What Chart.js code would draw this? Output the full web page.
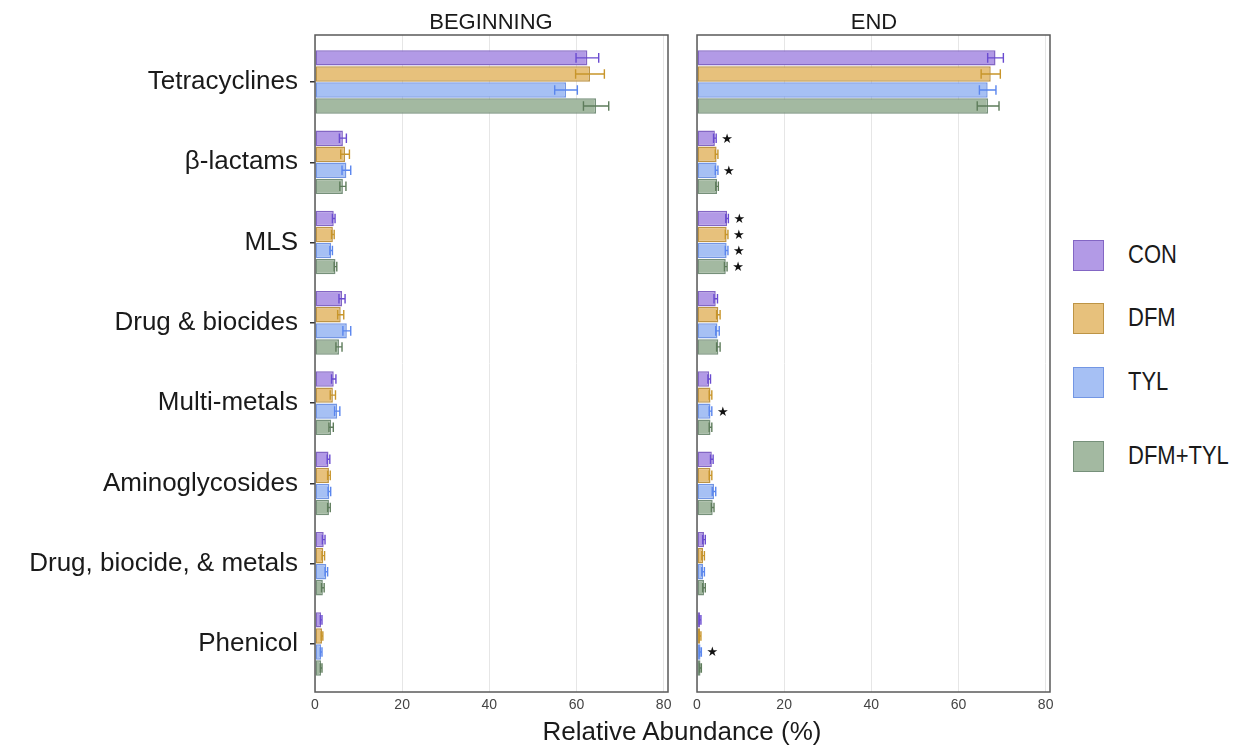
<!DOCTYPE html>
<html>
<head>
<meta charset="utf-8">
<script src="https://cdn.jsdelivr.net/npm/chart.js@4.4.0/dist/chart.umd.min.js"></script>
<style>
  body { margin:0; background:#fff; width:1241px; height:746px; position:relative; overflow:hidden;
         font-family:"Liberation Sans", Arial, Helvetica, sans-serif; color:#1a1a1a; }
  canvas { position:absolute; top:0; }
  #left { left:0; }
  #right { left:680px; }
  .ptitle { position:absolute; top:9px; font-size:22px; transform:translateX(-50%); white-space:nowrap; }
  .xtitle { position:absolute; top:716px; left:682px; font-size:26px; transform:translateX(-50%); white-space:nowrap; }
  .lg { position:absolute; left:1073px; height:32px; display:flex; align-items:center; }
  .sw { width:29px; height:29px; border:1.5px solid; display:inline-block; }
  .lt { position:absolute; left:55px; font-size:22px; white-space:nowrap; transform:scaleY(1.15); transform-origin:left center; }
</style>
</head>
<body>
<canvas id="left" width="680" height="746"></canvas>
<canvas id="right" width="390" height="746"></canvas>
<div class="ptitle" style="left:491px">BEGINNING</div>
<div class="ptitle" style="left:874px">END</div>
<div class="xtitle">Relative Abundance (%)</div>
<div id="legend"></div>
<script>
// Resistance classes (top to bottom)
const categories = ['Tetracyclines', 'β-lactams', 'MLS', 'Drug & biocides', 'Multi-metals',
                    'Aminoglycosides', 'Drug, biocide, & metals', 'Phenicol'];
const groups = ['CON', 'DFM', 'TYL', 'DFM+TYL'];
const xTicks = [0, 20, 40, 60, 80];

// Mean relative abundance (%) at the beginning of the trial
const begCON    = [62.5, 6.4, 4.3, 6.2, 4.3, 3.1, 2.0, 1.4];
const begDFM    = [63.1, 6.9, 4.1, 5.9, 4.1, 3.2, 1.9, 1.6];
const begTYL    = [57.6, 7.2, 3.7, 7.3, 5.1, 3.3, 2.6, 1.4];
const begDFMTYL = [64.5, 6.4, 4.7, 5.5, 3.7, 3.2, 1.8, 1.4];
// Standard errors, beginning
const begCONErr    = [2.6, 0.8, 0.3, 0.7, 0.5, 0.3, 0.3, 0.2];
const begDFMErr    = [3.3, 1.0, 0.3, 0.7, 0.6, 0.3, 0.3, 0.2];
const begTYLErr    = [2.6, 1.0, 0.3, 0.9, 0.6, 0.3, 0.3, 0.2];
const begDFMTYLErr = [2.9, 0.7, 0.3, 0.7, 0.5, 0.3, 0.3, 0.2];

// Mean relative abundance (%) at the end of the trial
const endCON    = [68.5, 4.1, 6.9, 4.3, 2.8, 3.4, 1.6, 0.7];
const endDFM    = [67.4, 4.5, 6.8, 4.9, 3.1, 3.1, 1.4, 0.7];
const endTYL    = [66.7, 4.5, 6.8, 4.7, 3.1, 3.9, 1.4, 0.8];
const endDFMTYL = [66.8, 4.6, 6.6, 4.9, 3.1, 3.6, 1.6, 0.8];
// Standard errors, end
const endCONErr    = [1.8, 0.3, 0.3, 0.4, 0.3, 0.3, 0.3, 0.2];
const endDFMErr    = [2.2, 0.3, 0.3, 0.4, 0.3, 0.3, 0.3, 0.2];
const endTYLErr    = [1.9, 0.3, 0.3, 0.4, 0.3, 0.4, 0.3, 0.2];
const endDFMTYLErr = [2.5, 0.3, 0.3, 0.4, 0.3, 0.3, 0.3, 0.2];
// Significance marks at the end (1 = starred)
const endCONSig    = [0, 1, 1, 0, 0, 0, 0, 0];
const endDFMSig    = [0, 0, 1, 0, 0, 0, 0, 0];
const endTYLSig    = [0, 1, 1, 0, 1, 0, 0, 1];
const endDFMTYLSig = [0, 0, 1, 0, 0, 0, 0, 0];

const fills   = ['#B29AE6', '#E7C17C', '#A6C0F4', '#A3B9A1'];
const borders = ['#8366C4', '#BD9445', '#7396E4', '#76907A'];
const errCols = ['#6A4BD0', '#C8952A', '#5A86EE', '#5E7C5B'];

function makeDatasets(vals, errs, sigs) {
  return vals.map((arr, k) => ({
    label: groups[k],
    data: arr.map((v, i) => ({ x: v, y: i })),
    errors: errs[k],
    stars: sigs ? sigs[k] : null,
    errorColor: errCols[k],
    backgroundColor: fills[k],
    borderColor: borders[k],
    borderWidth: 1.5,
    borderSkipped: false,
    categoryPercentage: 0.8,
    barPercentage: 0.96
  }));
}

// Error bars and significance stars
const errorBars = {
  id: 'errorBars',
  afterDatasetsDraw(chart) {
    const ctx = chart.ctx, xs = chart.scales.x;
    chart.data.datasets.forEach((ds, di) => {
      const meta = chart.getDatasetMeta(di);
      meta.data.forEach((bar, i) => {
        const v = ds.data[i].x, e = ds.errors[i];
        const x0 = xs.getPixelForValue(v - e), x1 = xs.getPixelForValue(v + e);
        const y = bar.y, h = bar.height * 0.62;
        ctx.save();
        ctx.strokeStyle = ds.errorColor;
        ctx.lineWidth = 1.4;
        ctx.beginPath();
        ctx.moveTo(x0, y); ctx.lineTo(x1, y);
        ctx.moveTo(x0, y - h / 2); ctx.lineTo(x0, y + h / 2);
        ctx.moveTo(x1, y - h / 2); ctx.lineTo(x1, y + h / 2);
        ctx.stroke();
        if (ds.stars && ds.stars[i]) {
          ctx.fillStyle = '#111';
          ctx.font = '13px "DejaVu Sans", sans-serif';
          ctx.textAlign = 'center';
          ctx.textBaseline = 'middle';
          ctx.fillText('★', x1 + 11, y + 1);
        }
        ctx.restore();
      });
    });
  }
};

// Panel frame
const frame = {
  id: 'frame',
  afterDraw(chart) {
    const a = chart.chartArea, ctx = chart.ctx;
    ctx.save();
    ctx.strokeStyle = '#5a5a5a';
    ctx.lineWidth = 1.5;
    ctx.strokeRect(a.left, a.top, a.right - a.left, a.bottom - a.top);
    ctx.restore();
  }
};

function xScale() {
  return {
    type: 'linear', min: 0, max: 81,
    afterBuildTicks: s => { s.ticks = xTicks.map(v => ({ value: v })); },
    afterFit: s => { s.height = 54; },
    grid: { color: '#e6e6e6', lineWidth: 1, drawTicks: false },
    border: { display: false },
    ticks: { padding: 5, color: '#444', font: { size: 14, family: '"Liberation Sans", Arial, sans-serif' } }
  };
}

function yScale(showLabels) {
  return {
    type: 'linear', reverse: true, min: -0.585, max: 7.598,
    offset: false,
    display: showLabels,
    afterBuildTicks: s => { s.ticks = categories.map((c, i) => ({ value: i })); },
    afterFit: s => { if (showLabels) s.width = 315; },
    grid: { offset: false, drawOnChartArea: false, drawTicks: true, tickLength: 5, color: '#333', lineWidth: 1.5 },
    border: { display: false },
    ticks: {
      padding: 12, color: '#1a1a1a',
      font: { size: 26, family: '"Liberation Sans", Arial, sans-serif' },
      callback: v => categories[v]
    }
  };
}

const common = {
  indexAxis: 'y',
  responsive: false,
  animation: false,
  plugins: { legend: { display: false }, tooltip: { enabled: false } }
};

new Chart(document.getElementById('left'), {
  type: 'bar',
  data: { datasets: makeDatasets(
    [begCON, begDFM, begTYL, begDFMTYL],
    [begCONErr, begDFMErr, begTYLErr, begDFMTYLErr]) },
  options: Object.assign({}, common, {
    layout: { padding: { top: 35, right: 12, left: 0, bottom: 0 } },
    scales: { x: xScale(), y: yScale(true) }
  }),
  plugins: [errorBars, frame]
});

new Chart(document.getElementById('right'), {
  type: 'bar',
  data: { datasets: makeDatasets(
    [endCON, endDFM, endTYL, endDFMTYL],
    [endCONErr, endDFMErr, endTYLErr, endDFMTYLErr],
    [endCONSig, endDFMSig, endTYLSig, endDFMTYLSig]) },
  options: Object.assign({}, common, {
    layout: { padding: { top: 35, right: 20, left: 17, bottom: 0 } },
    scales: { x: xScale(), y: yScale(false) }
  }),
  plugins: [errorBars, frame]
});

// Legend
const legendTops = [239, 302, 366, 440];
const lg = document.getElementById('legend');
groups.forEach((g, k) => {
  const d = document.createElement('div');
  d.className = 'lg';
  d.style.top = legendTops[k] + 'px';
  d.innerHTML = '<span class="sw" style="background:' + fills[k] + ';border-color:' + borders[k] +
                '"></span><span class="lt">' + g + '</span>';
  lg.appendChild(d);
});
</script>
</body>
</html>
